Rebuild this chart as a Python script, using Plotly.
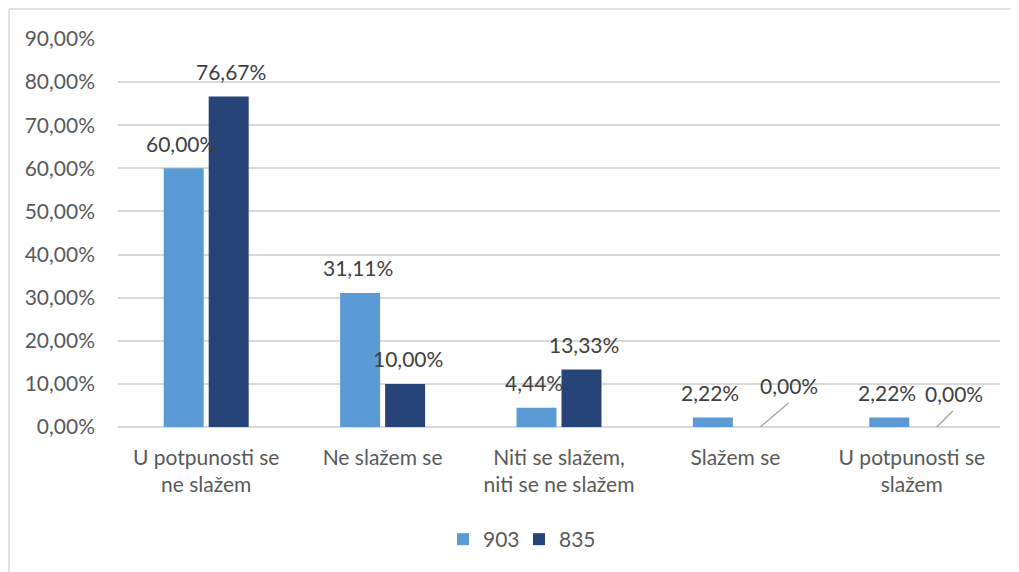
import plotly.graph_objects as go

categories = ["U potpunosti se<br>ne slažem", "Ne slažem se", "Niti se slažem,<br>niti se ne slažem",
              "Slažem se", "U potpunosti se<br>slažem"]
series_names = ["903", "835"]
values_903 = [0.60, 0.3111, 0.0444, 0.0222, 0.0222]
values_835 = [0.7667, 0.10, 0.1333, 0.0, 0.0]

colors = ["#5B9BD5", "#264478"]
text_color = "#595959"
grid_color = "#D9D9D9"
FONT = "Lato"
FS = 21

def fmt(v):
    return f"{v*100:.2f}%".replace(".", ",")

fig = go.Figure()
for name, vals, col in zip(series_names, [values_903, values_835], colors):
    fig.add_trace(go.Bar(x=categories, y=vals, name=name, marker_color=col,
                         marker_line_width=0, hoverinfo="skip"))

annotations = []
shapes = []
# pixel offsets for labels of zero-value bars (leader lines)
zero_label_offsets = {3: (29, 42), 4: (17, 34)}
zero_line_ends = {3: (28, 24), 4: (16, 16)}
for si, vals in enumerate([values_903, values_835]):
    xs = -25 if si == 0 else 25
    for ci, v in enumerate(vals):
        if v == 0 and ci in zero_label_offsets:
            dx, dy = zero_label_offsets[ci]
            annotations.append(dict(x=categories[ci], y=0, xref="x", yref="y", text=fmt(v),
                                    showarrow=False, xshift=xs + dx, yshift=dy,
                                    font=dict(family=FONT, size=FS, color="#404040")))
            lx, ly = zero_line_ends[ci]
            shapes.append(dict(type="line", xref="x", yref="y", xsizemode="pixel", ysizemode="pixel",
                               xanchor=ci, yanchor=0, x0=xs, x1=xs + lx, y0=0, y1=ly,
                               line=dict(color="#A6A6A6", width=1.5)))
        else:
            annotations.append(dict(x=categories[ci], y=v, xref="x", yref="y", text=fmt(v),
                                    showarrow=False, xshift=xs, yshift=25,
                                    font=dict(family=FONT, size=FS, color="#404040")))

# chart border (top and left visible)
bx = (9 - 118) / 882
by = (427 - 9) / 388
shapes.append(dict(type="line", xref="paper", yref="paper", x0=bx, x1=bx, y0=-0.5, y1=by,
                   line=dict(color=grid_color, width=1.5)))
shapes.append(dict(type="line", xref="paper", yref="paper", x0=bx, x1=1.1, y0=by, y1=by,
                   line=dict(color=grid_color, width=1.5)))

fig.update_layout(
    width=1019, height=572,
    margin=dict(l=110, r=27, t=31, b=153, autoexpand=False),
    paper_bgcolor="white", plot_bgcolor="white",
    separators=",.",
    barmode="group", bargap=0.49, bargroupgap=0.111,
    font=dict(family=FONT, size=FS, color=text_color),
    showlegend=True,
    legend=dict(orientation="h", x=(443 - 118) / 882, xanchor="left", y=-0.29, yanchor="middle",
                font=dict(family=FONT, size=FS, color=text_color), itemwidth=30,
                entrywidth=31, entrywidthmode="pixels"),
    annotations=annotations,
    shapes=shapes,
)
fig.update_yaxes(range=[0, 0.9], dtick=0.1, tickformat=".2%", showgrid=True, gridcolor=grid_color,
                 gridwidth=1.5, zeroline=True, zerolinecolor=grid_color, zerolinewidth=1.5,
                 showline=False, ticks="", ticklabelstandoff=22, automargin=False,
                 tickfont=dict(family=FONT, size=FS, color=text_color))
fig.update_xaxes(showline=False, ticks="", tickfont=dict(family=FONT, size=FS, color=text_color),
                 tickangle=0, ticklabelstandoff=16, automargin=False)

fig.write_html("out.html")
